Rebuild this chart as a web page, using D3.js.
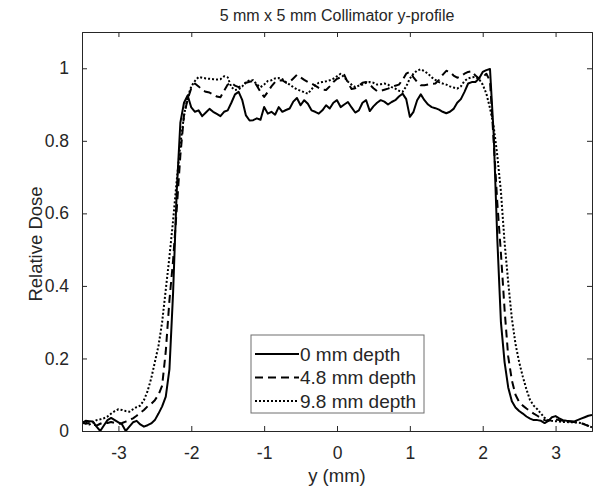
<!DOCTYPE html>
<html><head><meta charset="utf-8">
<script src="https://cdn.jsdelivr.net/npm/d3@7"></script>
<style>
html,body{margin:0;padding:0;background:#fff;}
text{font-family:Arial,"Liberation Sans",Helvetica,sans-serif;fill:#262626;}
</style></head>
<body>
<svg id="chart" width="596" height="489"></svg>
<script>
// ---------- data ----------
const chartTitle = "5 mm x 5 mm Collimator y-profile";
const xLabel = "y (mm)";
const yLabel = "Relative Dose";
const seriesNames = ["0 mm depth", "4.8 mm depth", "9.8 mm depth"];
const xTicks = [-3, -2, -1, 0, 1, 2, 3];
const yTicks = [0, 0.2, 0.4, 0.6, 0.8, 1];
const xStart = -3.5, xStep = 0.05, nPoints = 141;
const positions = d3.range(nPoints).map(i => +(xStart + i * xStep).toFixed(2));

const dose0 = [
0.022,0.028,0.027,0.026,0.012,0.000,0.015,0.030,0.036,0.030,
0.024,0.018,0.000,0.012,0.024,0.028,0.018,0.012,0.016,0.021,
0.030,0.048,0.068,0.095,0.170,0.380,0.660,0.850,0.905,0.925,
0.892,0.880,0.884,0.868,0.878,0.888,0.880,0.874,0.868,0.880,
0.884,0.905,0.928,0.935,0.912,0.870,0.856,0.857,0.862,0.858,
0.893,0.875,0.880,0.872,0.893,0.880,0.885,0.889,0.908,0.918,
0.898,0.912,0.902,0.884,0.880,0.875,0.884,0.898,0.889,0.905,
0.912,0.893,0.900,0.907,0.892,0.878,0.884,0.905,0.912,0.882,
0.895,0.905,0.912,0.908,0.900,0.907,0.912,0.922,0.930,0.915,
0.866,0.880,0.912,0.928,0.912,0.900,0.893,0.890,0.886,0.880,
0.876,0.880,0.888,0.905,0.915,0.935,0.958,0.962,0.962,0.972,
0.990,0.995,0.998,0.820,0.530,0.300,0.190,0.120,0.082,0.065,
0.055,0.048,0.040,0.034,0.030,0.030,0.028,0.022,0.028,0.038,
0.041,0.035,0.030,0.028,0.027,0.026,0.030,0.034,0.038,0.042,
0.044];

const dose48 = [
0.025,0.020,0.022,0.018,0.015,0.020,0.024,0.022,0.025,0.022,
0.020,0.022,0.026,0.030,0.035,0.042,0.050,0.058,0.068,0.075,
0.085,0.100,0.125,0.220,0.360,0.470,0.610,0.760,0.870,0.915,
0.945,0.958,0.950,0.940,0.935,0.933,0.928,0.922,0.920,0.938,
0.955,0.960,0.952,0.948,0.952,0.960,0.963,0.965,0.952,0.935,
0.921,0.935,0.950,0.962,0.966,0.967,0.960,0.962,0.972,0.982,
0.975,0.968,0.962,0.958,0.952,0.946,0.941,0.940,0.950,0.962,
0.971,0.975,0.982,0.960,0.943,0.945,0.952,0.960,0.962,0.955,
0.945,0.937,0.938,0.941,0.944,0.948,0.952,0.955,0.968,0.985,
0.990,0.975,0.962,0.953,0.953,0.955,0.957,0.958,0.968,0.982,
0.993,0.990,0.980,0.974,0.978,0.985,0.990,0.992,0.980,0.972,
0.975,0.985,0.965,0.800,0.630,0.490,0.335,0.205,0.140,0.100,
0.080,0.070,0.062,0.055,0.048,0.042,0.036,0.030,0.028,0.030,
0.032,0.030,0.028,0.026,0.026,0.025,0.024,0.022,0.018,0.014,
0.010];

const dose98 = [
0.020,0.025,0.018,0.022,0.030,0.032,0.035,0.040,0.048,0.055,
0.060,0.058,0.055,0.053,0.060,0.066,0.070,0.085,0.110,0.145,
0.190,0.235,0.300,0.390,0.480,0.580,0.690,0.790,0.870,0.920,
0.950,0.965,0.976,0.974,0.972,0.971,0.970,0.969,0.970,0.978,
0.975,0.948,0.940,0.942,0.950,0.962,0.967,0.967,0.955,0.948,
0.955,0.965,0.967,0.972,0.973,0.970,0.962,0.955,0.948,0.942,
0.938,0.934,0.930,0.942,0.953,0.960,0.962,0.964,0.967,0.971,
0.978,0.985,0.975,0.963,0.955,0.948,0.952,0.955,0.960,0.962,
0.960,0.955,0.956,0.958,0.955,0.948,0.944,0.938,0.935,0.950,
0.972,0.985,0.994,0.997,0.992,0.985,0.975,0.968,0.962,0.958,
0.955,0.950,0.947,0.944,0.950,0.965,0.972,0.975,0.976,0.970,
0.955,0.930,0.890,0.840,0.760,0.660,0.520,0.410,0.310,0.240,
0.190,0.150,0.115,0.085,0.070,0.060,0.048,0.036,0.030,0.028,
0.027,0.026,0.025,0.025,0.024,0.024,0.023,0.022,0.018,0.014,
0.010];

const seriesValues = [dose0, dose48, dose98];
const dashes = [null, "8,5", "2,2"];

// ---------- layout ----------
const W = 596, H = 489;
const margin = {left: 82, right: 4, top: 32, bottom: 58};
const iw = W - margin.left - margin.right;
const ih = H - margin.top - margin.bottom;
const axisColor = "#262626";

const svg = d3.select("#chart");
const g = svg.append("g").attr("transform", `translate(${margin.left},${margin.top})`);

const x = d3.scaleLinear().domain([-3.5, 3.5]).range([0, iw]);
const y = d3.scaleLinear().domain([0, 1.1]).range([ih, 0]);

g.append("defs").append("clipPath").attr("id", "clip")
  .append("rect").attr("width", iw).attr("height", ih);

const line = d3.line().x(d => x(d[0])).y(d => y(d[1]));

const plot = g.append("g").attr("clip-path", "url(#clip)");
seriesValues.forEach((vals, i) => {
  plot.append("path")
    .datum(positions.map((p, k) => [p, vals[k]]))
    .attr("fill", "none")
    .attr("stroke", "#000")
    .attr("stroke-width", 2)
    .attr("stroke-linejoin", "round")
    .attr("stroke-dasharray", dashes[i])
    .attr("d", line);
});

// axes (ticks inside, box on)
const fmt = d => String(d);
const xb = g.append("g").attr("transform", `translate(0,${ih})`)
  .call(d3.axisBottom(x).tickValues(xTicks).tickSize(-5).tickPadding(16).tickFormat(fmt));
const xt = g.append("g")
  .call(d3.axisTop(x).tickValues(xTicks).tickSize(-5).tickFormat(""));
const yl = g.append("g")
  .call(d3.axisLeft(y).tickValues(yTicks).tickSize(-5).tickPadding(13).tickFormat(fmt));
const yr = g.append("g").attr("transform", `translate(${iw},0)`)
  .call(d3.axisRight(y).tickValues(yTicks).tickSize(-5).tickFormat(""));
[xb, xt, yl, yr].forEach(a => {
  a.selectAll("path").attr("stroke", axisColor).attr("stroke-width", 1);
  a.selectAll("line").attr("stroke", axisColor).attr("stroke-width", 1);
  a.selectAll("text").attr("font-family", "Arial, 'Liberation Sans', sans-serif")
    .attr("font-size", 17.5).attr("fill", axisColor);
});
xb.selectAll("text").attr("dy", "0.71em");

// labels
svg.append("text").attr("x", margin.left + iw / 2).attr("y", 21)
  .attr("text-anchor", "middle").attr("font-size", 16).text(chartTitle);
svg.append("text").attr("x", margin.left + iw / 2).attr("y", 482)
  .attr("text-anchor", "middle").attr("font-size", 18.5).text(xLabel);
svg.append("text").attr("transform", `translate(42,244) rotate(-90)`)
  .attr("text-anchor", "middle").attr("font-size", 18.5).text(yLabel);

// legend
const leg = svg.append("g").attr("transform", "translate(251,335)");
leg.append("rect").attr("width", 173).attr("height", 78)
  .attr("fill", "#fff").attr("stroke", "#6e6e6e").attr("stroke-width", 1);
seriesNames.forEach((name, i) => {
  const ly = 19 + i * 23.5;
  leg.append("line").attr("x1", 4).attr("x2", 48).attr("y1", ly).attr("y2", ly)
    .attr("stroke", "#000").attr("stroke-width", 2).attr("stroke-dasharray", dashes[i]);
  leg.append("text").attr("x", 49).attr("y", ly + 6.5).attr("font-size", 19).text(name);
});
</script>
</body></html>
